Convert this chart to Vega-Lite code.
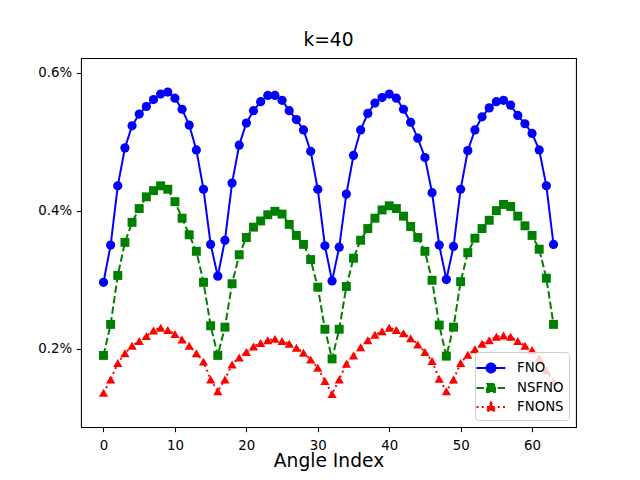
{
  "$schema": "https://vega.github.io/schema/vega-lite/v6.json",
  "width": 495,
  "height": 369,
  "autosize": {"type": "none"},
  "padding": {"left": 81, "top": 58, "right": 64, "bottom": 53},
  "background": "white",
  "title": {"text": "k=40", "fontSize": 18.67, "fontWeight": "normal", "font": "DejaVu Sans", "color": "black", "anchor": "middle", "baseline": "alphabetic", "offset": -7},
  "config": {
    "font": "DejaVu Sans",
    "view": {"stroke": "black", "strokeWidth": 1.07},
    "axis": {"grid": false, "domain": false, "tickColor": "black", "tickWidth": 1.07, "tickSize": 4.67, "labelPadding": 4.67, "labelFontSize": 13.33, "labelColor": "black", "titleFontSize": 18.67, "titleFontWeight": "normal", "titleColor": "black", "labelFont": "DejaVu Sans", "titleFont": "DejaVu Sans"},
    "legend": {"title": null, "orient": "bottom-right", "offset": 7, "padding": 5, "fillColor": "rgba(255,255,255,0.8)", "strokeColor": "#cccccc", "cornerRadius": 3, "labelFontSize": 13.33, "labelFont": "DejaVu Sans", "labelColor": "black", "labelOffset": 15, "rowPadding": -1, "symbolSize": 400, "symbolStrokeWidth": 2, "symbolOpacity": 1}
  },
  "data": {"values": [
    {"angle":0,"model":"FNO","error":0.00296},{"angle":1,"model":"FNO","error":0.00350},{"angle":2,"model":"FNO","error":0.00436},{"angle":3,"model":"FNO","error":0.00491},{"angle":4,"model":"FNO","error":0.00523},{"angle":5,"model":"FNO","error":0.00540},{"angle":6,"model":"FNO","error":0.00551},{"angle":7,"model":"FNO","error":0.00561},{"angle":8,"model":"FNO","error":0.00569},{"angle":9,"model":"FNO","error":0.00572},
    {"angle":10,"model":"FNO","error":0.00563},{"angle":11,"model":"FNO","error":0.00547},{"angle":12,"model":"FNO","error":0.00524},{"angle":13,"model":"FNO","error":0.00488},{"angle":14,"model":"FNO","error":0.00431},{"angle":15,"model":"FNO","error":0.00351},{"angle":16,"model":"FNO","error":0.00305},{"angle":17,"model":"FNO","error":0.00357},{"angle":18,"model":"FNO","error":0.00440},{"angle":19,"model":"FNO","error":0.00495},
    {"angle":20,"model":"FNO","error":0.00527},{"angle":21,"model":"FNO","error":0.00545},{"angle":22,"model":"FNO","error":0.00558},{"angle":23,"model":"FNO","error":0.00567},{"angle":24,"model":"FNO","error":0.00567},{"angle":25,"model":"FNO","error":0.00560},{"angle":26,"model":"FNO","error":0.00545},{"angle":27,"model":"FNO","error":0.00532},{"angle":28,"model":"FNO","error":0.00517},{"angle":29,"model":"FNO","error":0.00486},
    {"angle":30,"model":"FNO","error":0.00431},{"angle":31,"model":"FNO","error":0.00349},{"angle":32,"model":"FNO","error":0.00298},{"angle":33,"model":"FNO","error":0.00347},{"angle":34,"model":"FNO","error":0.00424},{"angle":35,"model":"FNO","error":0.00480},{"angle":36,"model":"FNO","error":0.00517},{"angle":37,"model":"FNO","error":0.00541},{"angle":38,"model":"FNO","error":0.00556},{"angle":39,"model":"FNO","error":0.00564},
    {"angle":40,"model":"FNO","error":0.00569},{"angle":41,"model":"FNO","error":0.00563},{"angle":42,"model":"FNO","error":0.00547},{"angle":43,"model":"FNO","error":0.00528},{"angle":44,"model":"FNO","error":0.00505},{"angle":45,"model":"FNO","error":0.00477},{"angle":46,"model":"FNO","error":0.00426},{"angle":47,"model":"FNO","error":0.00350},{"angle":48,"model":"FNO","error":0.00300},{"angle":49,"model":"FNO","error":0.00348},
    {"angle":50,"model":"FNO","error":0.00431},{"angle":51,"model":"FNO","error":0.00487},{"angle":52,"model":"FNO","error":0.00517},{"angle":53,"model":"FNO","error":0.00536},{"angle":54,"model":"FNO","error":0.00549},{"angle":55,"model":"FNO","error":0.00558},{"angle":56,"model":"FNO","error":0.00560},{"angle":57,"model":"FNO","error":0.00553},{"angle":58,"model":"FNO","error":0.00538},{"angle":59,"model":"FNO","error":0.00526},
    {"angle":60,"model":"FNO","error":0.00512},{"angle":61,"model":"FNO","error":0.00488},{"angle":62,"model":"FNO","error":0.00436},{"angle":63,"model":"FNO","error":0.00351},
    {"angle":0,"model":"NSFNO","error":0.00190},{"angle":1,"model":"NSFNO","error":0.00235},{"angle":2,"model":"NSFNO","error":0.00306},{"angle":3,"model":"NSFNO","error":0.00354},{"angle":4,"model":"NSFNO","error":0.00383},{"angle":5,"model":"NSFNO","error":0.00403},{"angle":6,"model":"NSFNO","error":0.00420},{"angle":7,"model":"NSFNO","error":0.00429},{"angle":8,"model":"NSFNO","error":0.00436},{"angle":9,"model":"NSFNO","error":0.00431},
    {"angle":10,"model":"NSFNO","error":0.00413},{"angle":11,"model":"NSFNO","error":0.00389},{"angle":12,"model":"NSFNO","error":0.00365},{"angle":13,"model":"NSFNO","error":0.00341},{"angle":14,"model":"NSFNO","error":0.00296},{"angle":15,"model":"NSFNO","error":0.00233},{"angle":16,"model":"NSFNO","error":0.00190},{"angle":17,"model":"NSFNO","error":0.00231},{"angle":18,"model":"NSFNO","error":0.00294},{"angle":19,"model":"NSFNO","error":0.00336},
    {"angle":20,"model":"NSFNO","error":0.00361},{"angle":21,"model":"NSFNO","error":0.00376},{"angle":22,"model":"NSFNO","error":0.00385},{"angle":23,"model":"NSFNO","error":0.00394},{"angle":24,"model":"NSFNO","error":0.00399},{"angle":25,"model":"NSFNO","error":0.00395},{"angle":26,"model":"NSFNO","error":0.00380},{"angle":27,"model":"NSFNO","error":0.00364},{"angle":28,"model":"NSFNO","error":0.00351},{"angle":29,"model":"NSFNO","error":0.00329},
    {"angle":30,"model":"NSFNO","error":0.00289},{"angle":31,"model":"NSFNO","error":0.00228},{"angle":32,"model":"NSFNO","error":0.00185},{"angle":33,"model":"NSFNO","error":0.00228},{"angle":34,"model":"NSFNO","error":0.00290},{"angle":35,"model":"NSFNO","error":0.00331},{"angle":36,"model":"NSFNO","error":0.00357},{"angle":37,"model":"NSFNO","error":0.00374},{"angle":38,"model":"NSFNO","error":0.00389},{"angle":39,"model":"NSFNO","error":0.00401},
    {"angle":40,"model":"NSFNO","error":0.00407},{"angle":41,"model":"NSFNO","error":0.00403},{"angle":42,"model":"NSFNO","error":0.00392},{"angle":43,"model":"NSFNO","error":0.00377},{"angle":44,"model":"NSFNO","error":0.00361},{"angle":45,"model":"NSFNO","error":0.00341},{"angle":46,"model":"NSFNO","error":0.00299},{"angle":47,"model":"NSFNO","error":0.00234},{"angle":48,"model":"NSFNO","error":0.00189},{"angle":49,"model":"NSFNO","error":0.00231},
    {"angle":50,"model":"NSFNO","error":0.00297},{"angle":51,"model":"NSFNO","error":0.00339},{"angle":52,"model":"NSFNO","error":0.00360},{"angle":53,"model":"NSFNO","error":0.00374},{"angle":54,"model":"NSFNO","error":0.00386},{"angle":55,"model":"NSFNO","error":0.00400},{"angle":56,"model":"NSFNO","error":0.00409},{"angle":57,"model":"NSFNO","error":0.00406},{"angle":58,"model":"NSFNO","error":0.00392},{"angle":59,"model":"NSFNO","error":0.00378},
    {"angle":60,"model":"NSFNO","error":0.00364},{"angle":61,"model":"NSFNO","error":0.00344},{"angle":62,"model":"NSFNO","error":0.00302},{"angle":63,"model":"NSFNO","error":0.00235},
    {"angle":0,"model":"FNONS","error":0.00136},{"angle":1,"model":"FNONS","error":0.00155},{"angle":2,"model":"FNONS","error":0.00179},{"angle":3,"model":"FNONS","error":0.00193},{"angle":4,"model":"FNONS","error":0.00204},{"angle":5,"model":"FNONS","error":0.00211},{"angle":6,"model":"FNONS","error":0.00218},{"angle":7,"model":"FNONS","error":0.00226},{"angle":8,"model":"FNONS","error":0.00230},{"angle":9,"model":"FNONS","error":0.00227},
    {"angle":10,"model":"FNONS","error":0.00221},{"angle":11,"model":"FNONS","error":0.00213},{"angle":12,"model":"FNONS","error":0.00204},{"angle":13,"model":"FNONS","error":0.00193},{"angle":14,"model":"FNONS","error":0.00181},{"angle":15,"model":"FNONS","error":0.00155},{"angle":16,"model":"FNONS","error":0.00138},{"angle":17,"model":"FNONS","error":0.00155},{"angle":18,"model":"FNONS","error":0.00177},{"angle":19,"model":"FNONS","error":0.00187},
    {"angle":20,"model":"FNONS","error":0.00195},{"angle":21,"model":"FNONS","error":0.00203},{"angle":22,"model":"FNONS","error":0.00208},{"angle":23,"model":"FNONS","error":0.00212},{"angle":24,"model":"FNONS","error":0.00214},{"angle":25,"model":"FNONS","error":0.00211},{"angle":26,"model":"FNONS","error":0.00207},{"angle":27,"model":"FNONS","error":0.00201},{"angle":28,"model":"FNONS","error":0.00194},{"angle":29,"model":"FNONS","error":0.00184},
    {"angle":30,"model":"FNONS","error":0.00172},{"angle":31,"model":"FNONS","error":0.00153},{"angle":32,"model":"FNONS","error":0.00134},{"angle":33,"model":"FNONS","error":0.00155},{"angle":34,"model":"FNONS","error":0.00178},{"angle":35,"model":"FNONS","error":0.00190},{"angle":36,"model":"FNONS","error":0.00202},{"angle":37,"model":"FNONS","error":0.00212},{"angle":38,"model":"FNONS","error":0.00220},{"angle":39,"model":"FNONS","error":0.00225},
    {"angle":40,"model":"FNONS","error":0.00230},{"angle":41,"model":"FNONS","error":0.00227},{"angle":42,"model":"FNONS","error":0.00222},{"angle":43,"model":"FNONS","error":0.00215},{"angle":44,"model":"FNONS","error":0.00206},{"angle":45,"model":"FNONS","error":0.00195},{"angle":46,"model":"FNONS","error":0.00182},{"angle":47,"model":"FNONS","error":0.00156},{"angle":48,"model":"FNONS","error":0.00138},{"angle":49,"model":"FNONS","error":0.00155},
    {"angle":50,"model":"FNONS","error":0.00179},{"angle":51,"model":"FNONS","error":0.00191},{"angle":52,"model":"FNONS","error":0.00199},{"angle":53,"model":"FNONS","error":0.00207},{"angle":54,"model":"FNONS","error":0.00212},{"angle":55,"model":"FNONS","error":0.00217},{"angle":56,"model":"FNONS","error":0.00219},{"angle":57,"model":"FNONS","error":0.00217},{"angle":58,"model":"FNONS","error":0.00211},{"angle":59,"model":"FNONS","error":0.00204},
    {"angle":60,"model":"FNONS","error":0.00198},{"angle":61,"model":"FNONS","error":0.00186},{"angle":62,"model":"FNONS","error":0.00168},{"angle":63,"model":"FNONS","error":0.00152}
  ]},
  "encoding": {
    "x": {"field": "angle", "type": "quantitative", "title": "Angle Index", "scale": {"domain": [-3.15, 66.15], "nice": false, "zero": false}, "axis": {"values": [0, 10, 20, 30, 40, 50, 60], "labelPadding": 6.5, "titlePadding": 0}},
    "y": {"field": "error", "type": "quantitative", "title": null, "scale": {"domain": [0.000862, 0.0062134], "nice": false, "zero": false}, "axis": {"values": [0.002, 0.004, 0.006], "format": ".1%"}},
    "color": {"field": "model", "type": "nominal", "scale": {"domain": ["FNO", "NSFNO", "FNONS"], "range": ["#0000ff", "#008000", "#ff0000"]}, "legend": {"title": null}}
  },
  "layer": [
    {"mark": {"type": "line", "strokeWidth": 2},
     "encoding": {"strokeDash": {"field": "model", "type": "nominal", "scale": {"domain": ["FNO", "NSFNO", "FNONS"], "range": [[1, 0], [7.4, 3.2], [2, 3.3]]}, "legend": {"title": null}}}},
    {"mark": {"type": "point", "filled": true, "size": 0},
     "encoding": {"shape": {"field": "model", "type": "nominal", "scale": {"domain": ["FNO", "NSFNO", "FNONS"], "range": ["M-1.45,0H1.45M-0.45,0A0.45,0.45 0 1,0 0.45,0A0.45,0.45 0 1,0 -0.45,0Z", "M-1.45,0H1.45M-0.4,-0.4H0.4V0.4H-0.4Z", "M-1.45,0H1.45M0,-0.45L0.47,0.38L-0.47,0.38Z"]}, "legend": {"title": null}}}},
    {"transform": [{"filter": "datum.model === 'FNO'"}],
     "mark": {"type": "point", "filled": true, "opacity": 1, "size": 85, "shape": "circle"}},
    {"transform": [{"filter": "datum.model === 'NSFNO'"}],
     "mark": {"type": "point", "filled": true, "opacity": 1, "size": 80, "shape": "square"}},
    {"transform": [{"filter": "datum.model === 'FNONS'"}],
     "mark": {"type": "point", "filled": true, "opacity": 1, "size": 85, "shape": "triangle-up"}}
  ]
}
